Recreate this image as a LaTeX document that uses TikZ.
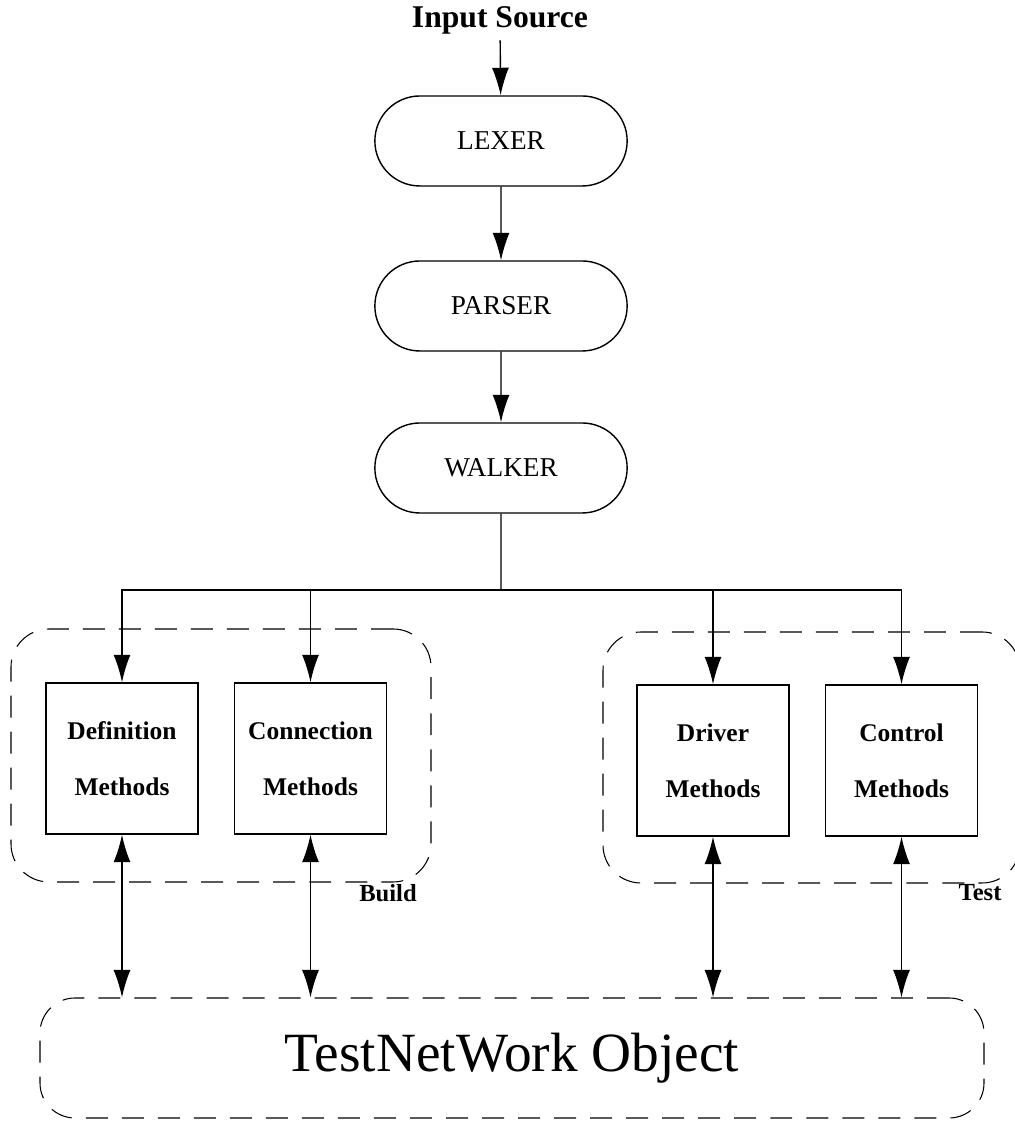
\documentclass[tikz,border=0pt]{standalone}
\usepackage{fontspec}
\setmainfont{Liberation Serif}
\usetikzlibrary{arrows.meta,shapes.misc}
\begin{document}
\begin{tikzpicture}[>={Latex[length=5.5mm,width=3.4mm]}, line width=0.8pt]
\tikzstyle{stage} = [rounded rectangle, draw=black, minimum width=5.28cm, minimum height=1.8cm, font=\fontsize{15.5}{18}\selectfont]
\tikzstyle{method} = [rectangle, draw=black, minimum width=3.04cm, minimum height=3.02cm, align=center, font=\fontsize{14.5}{32}\selectfont\bfseries]
\tikzstyle{group} = [rectangle, draw=black, line width=0.6pt, dash pattern=on 12.5pt off 8pt, rounded corners=0.76cm]
\useasboundingbox (0,0) rectangle (20.28,22.44);
\node[font=\fontsize{18}{21}\selectfont\bfseries] at (10.0, 22.04) (src){Input Source};
\node[stage] at (10.02, 19.62) (lex){LEXER};
\node[stage] at (10.02, 16.32) (par){PARSER};
\node[stage] at (10.02, 13.08) (walk){WALKER};
\coordinate (bus) at (10.02, 10.64);
\node[group, minimum width=8.4cm, minimum height=5.06cm] at (4.42, 7.33) (build){};
\node[group, minimum width=8.34cm, minimum height=5.02cm] at (16.23, 7.29) (test){};
\node[method] at (2.44, 7.27) (def){Definition\\Methods};
\node[method] at (6.21, 7.27) (conn){Connection\\Methods};
\node[method] at (14.26, 7.23) (drv){Driver\\Methods};
\node[method] at (18.03, 7.23) (ctrl){Control\\Methods};
\node[font=\fontsize{14}{16}\selectfont\bfseries] at (7.76, 4.58) (buildlbl){Build};
\node[font=\fontsize{14}{16}\selectfont\bfseries] at (19.6, 4.58) (testlbl){Test};
\node[group, rounded corners=0.7cm, minimum width=18.88cm, minimum height=2.4cm, font=\fontsize{31.5}{34}\selectfont] at (10.24, 1.28) (obj){TestNetWork Object};
\draw[->] (src) -- (lex);
\draw[->] (lex) -- (par);
\draw[->] (par) -- (walk);
\draw (walk) -- (bus);
\draw[->] (bus) -| (def.north);
\draw[->] (bus) -| (conn.north);
\draw[->] (bus) -| (drv.north);
\draw[->] (bus) -| (ctrl.north);
\draw[<->] (def.south) -- (def.south |- obj.north);
\draw[<->] (conn.south) -- (conn.south |- obj.north);
\draw[<->] (drv.south) -- (drv.south |- obj.north);
\draw[<->] (ctrl.south) -- (ctrl.south |- obj.north);
\end{tikzpicture}
\end{document}
